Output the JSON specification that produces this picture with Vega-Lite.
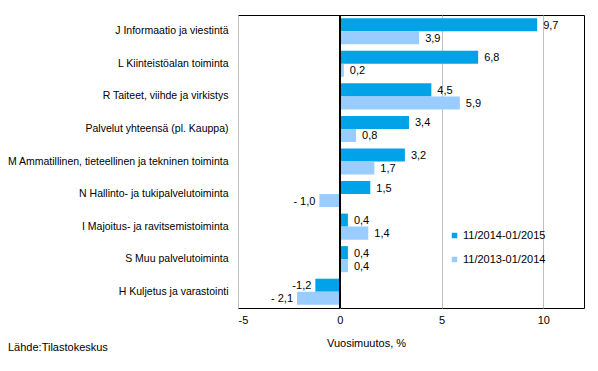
{
  "$schema": "https://vega.github.io/schema/vega-lite/v6.json",
  "autosize": "none",
  "width": 346,
  "height": 293,
  "padding": {"left": 238, "top": 15, "right": 14, "bottom": 63},
  "background": "white",
  "config": {
    "font": "Liberation Sans",
    "view": {"stroke": "black", "strokeWidth": 1},
    "axis": {"labelFont": "Liberation Sans", "titleFont": "Liberation Sans", "labelColor": "black", "titleColor": "black", "labelFontSize": 11, "titleFontSize": 11, "titleFontWeight": "normal"}
  },
  "title": {"text": "Lähde:Tilastokeskus", "orient": "bottom", "anchor": "start", "frame": "group", "dx": -230, "offset": -6, "fontSize": 11, "fontWeight": "normal", "font": "Liberation Sans", "color": "black"},
  "data": {
    "values": [
      {"cat": "J Informaatio ja viestintä", "series": "11/2014-01/2015", "v": 9.7, "lbl": "9,7"},
      {"cat": "J Informaatio ja viestintä", "series": "11/2013-01/2014", "v": 3.9, "lbl": "3,9"},
      {"cat": "L Kiinteistöalan toiminta", "series": "11/2014-01/2015", "v": 6.8, "lbl": "6,8"},
      {"cat": "L Kiinteistöalan toiminta", "series": "11/2013-01/2014", "v": 0.2, "lbl": "0,2"},
      {"cat": "R Taiteet, viihde ja virkistys", "series": "11/2014-01/2015", "v": 4.5, "lbl": "4,5"},
      {"cat": "R Taiteet, viihde ja virkistys", "series": "11/2013-01/2014", "v": 5.9, "lbl": "5,9"},
      {"cat": "Palvelut yhteensä (pl. Kauppa)", "series": "11/2014-01/2015", "v": 3.4, "lbl": "3,4"},
      {"cat": "Palvelut yhteensä (pl. Kauppa)", "series": "11/2013-01/2014", "v": 0.8, "lbl": "0,8"},
      {"cat": "M Ammatillinen, tieteellinen ja tekninen toiminta", "series": "11/2014-01/2015", "v": 3.2, "lbl": "3,2"},
      {"cat": "M Ammatillinen, tieteellinen ja tekninen toiminta", "series": "11/2013-01/2014", "v": 1.7, "lbl": "1,7"},
      {"cat": "N Hallinto- ja tukipalvelutoiminta", "series": "11/2014-01/2015", "v": 1.5, "lbl": "1,5"},
      {"cat": "N Hallinto- ja tukipalvelutoiminta", "series": "11/2013-01/2014", "v": -1.0, "lbl": "- 1,0"},
      {"cat": "I Majoitus- ja ravitsemistoiminta", "series": "11/2014-01/2015", "v": 0.4, "lbl": "0,4"},
      {"cat": "I Majoitus- ja ravitsemistoiminta", "series": "11/2013-01/2014", "v": 1.4, "lbl": "1,4"},
      {"cat": "S Muu palvelutoiminta", "series": "11/2014-01/2015", "v": 0.4, "lbl": "0,4"},
      {"cat": "S Muu palvelutoiminta", "series": "11/2013-01/2014", "v": 0.4, "lbl": "0,4"},
      {"cat": "H Kuljetus ja varastointi", "series": "11/2014-01/2015", "v": -1.2, "lbl": "-1,2"},
      {"cat": "H Kuljetus ja varastointi", "series": "11/2013-01/2014", "v": -2.1, "lbl": "- 2,1"}
    ]
  },
  "encoding": {
    "y": {"field": "cat", "type": "nominal", "sort": null, "scale": {"paddingInner": 0.2, "paddingOuter": 0.1},
      "axis": {"title": null, "ticks": false, "domain": false, "labelPadding": 10, "labelLimit": 300, "labelFontSize": 10.5}},
    "yOffset": {"field": "series", "type": "nominal", "sort": ["11/2014-01/2015", "11/2013-01/2014"], "scale": {"paddingInner": 0}},
    "x": {"field": "v", "type": "quantitative", "scale": {"domain": [-5, 12], "nice": false, "zero": false},
      "axis": {"title": "Vuosimuutos, %", "values": [-5, 0, 5, 10], "ticks": false, "domain": false, "grid": true, "gridColor": "#BFBFBF", "labelPadding": 6,
        "labelExpr": "datum.value < 0 ? '-' + abs(datum.value) : datum.label",
        "titleX": 128, "titleY": 35, "titleAlign": "center", "titleBaseline": "middle"}}
  },
  "layer": [
    {
      "mark": {"type": "bar"},
      "encoding": {
        "color": {"field": "series", "type": "nominal", "sort": ["11/2014-01/2015", "11/2013-01/2014"],
          "scale": {"range": ["#00A2E8", "#99CCFF"]},
          "legend": {"title": null, "orient": "none", "legendX": 211, "legendY": 215, "symbolType": "square", "symbolSize": 30, "symbolStrokeWidth": 0, "labelFontSize": 11, "labelFont": "Liberation Sans", "labelColor": "black", "rowPadding": 12, "labelOffset": 3, "padding": 0}}
      }
    },
    {
      "mark": {"type": "text", "fontSize": 11, "font": "Liberation Sans", "color": "black", "baseline": "middle",
        "align": {"expr": "datum.v < 0 ? 'right' : 'left'"},
        "dx": {"expr": "datum.v < 0 ? -4 : 6"}, "dy": 1},
      "encoding": {"text": {"field": "lbl"}}
    },
    {
      "mark": {"type": "rule", "color": "black", "strokeWidth": 1},
      "encoding": {"x": {"datum": 0}, "y": null, "yOffset": null}
    }
  ]
}
